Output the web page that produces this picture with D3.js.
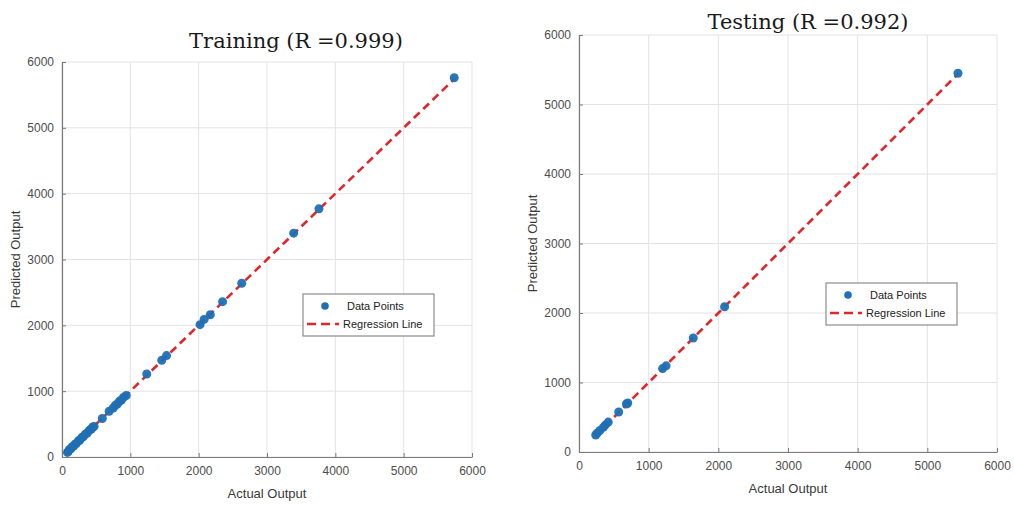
<!DOCTYPE html>
<html>
<head>
<meta charset="utf-8">
<script src="https://cdn.jsdelivr.net/npm/d3@7"></script>
<style>
  body { margin: 0; background: #fff; }
  svg text { font-family: "Liberation Sans", Arial, sans-serif; }
  .tick text { fill: #4d4d4d; font-size: 12px; }
</style>
</head>
<body>
<svg id="chart" width="1014" height="505"></svg>
<script>
/***** Data ***************************/
var trainActual = [80, 95, 110, 130, 150, 170, 190, 210, 240, 260, 290, 310, 340, 370, 400, 430, 450, 470,
                   590, 690, 750, 780, 810, 840, 870, 900, 940,
                   1240, 1460, 1530, 2020, 2080, 2170, 2350, 2630, 3390, 3760, 5740];
var trainPredicted = [70, 90, 115, 125, 155, 165, 195, 205, 245, 255, 295, 305, 345, 365, 405, 425, 455, 465,
                      585, 695, 745, 785, 805, 845, 865, 905, 935,
                      1260, 1470, 1540, 2010, 2090, 2160, 2360, 2640, 3400, 3770, 5760];
var testActual = [240, 260, 300, 350, 380, 420, 570, 680, 700, 1200, 1250, 1640, 2090, 5440];
var testPredicted = [245, 270, 310, 355, 390, 430, 575, 690, 705, 1200, 1240, 1640, 2090, 5450];
var trainLine = [80, 5750];
var testLine = [240, 5450];
var axisTicks = [0, 1000, 2000, 3000, 4000, 5000, 6000];

var svg = d3.select("#chart");

/***** One regression panel ******/
function drawPanel(opt) {
    var x = d3.scaleLinear().domain([0, 6000]).range([opt.left, opt.right]);
    var y = d3.scaleLinear().domain([0, 6000]).range([opt.bottom, opt.top]);
    var g = svg.append("g");

    // grid
    g.selectAll(".gx").data(axisTicks).enter().append("line")
      .attr("x1", function(d) { return x(d); }).attr("x2", function(d) { return x(d); })
      .attr("y1", opt.top).attr("y2", opt.bottom)
      .attr("stroke", "#e3e3e3").attr("stroke-width", 1);
    g.selectAll(".gy").data(axisTicks).enter().append("line")
      .attr("y1", function(d) { return y(d); }).attr("y2", function(d) { return y(d); })
      .attr("x1", opt.left).attr("x2", opt.right)
      .attr("stroke", "#e3e3e3").attr("stroke-width", 1);

    // axes
    var xa = g.append("g")
      .attr("transform", "translate(0," + opt.bottom + ")")
      .call(d3.axisBottom(x).tickValues(axisTicks).tickFormat(d3.format("d"))
              .tickSizeInner(-4).tickSizeOuter(0).tickPadding(9));
    var ya = g.append("g")
      .attr("transform", "translate(" + opt.left + ",0)")
      .call(d3.axisLeft(y).tickValues(axisTicks).tickFormat(d3.format("d"))
              .tickSizeInner(-4).tickSizeOuter(0).tickPadding(8));
    [xa, ya].forEach(function(a) {
        a.select(".domain").attr("stroke", "#7a7a7a").attr("stroke-width", 1.2);
        a.selectAll(".tick line").attr("stroke", "#7a7a7a");
    });

    // regression line
    g.append("line")
      .attr("x1", x(opt.line[0])).attr("y1", y(opt.line[0]))
      .attr("x2", x(opt.line[1])).attr("y2", y(opt.line[1]))
      .attr("stroke", "#e0262b").attr("stroke-width", 2.6)
      .attr("stroke-dasharray", "8,5");

    // points
    g.selectAll(".pt").data(opt.xs).enter().append("circle")
      .attr("cx", function(d) { return x(d); })
      .attr("cy", function(d, i) { return y(opt.ys[i]); })
      .attr("r", 4.5)
      .attr("fill", "#1f6fb5").attr("opacity", 0.95);

    // title
    g.append("text")
      .attr("x", opt.titleX).attr("y", opt.titleY)
      .attr("text-anchor", "middle")
      .style("font-family", "'DejaVu Serif', 'Liberation Serif', serif")
      .style("font-size", "21px")
      .attr("fill", "#1a1a1a")
      .text(opt.title);

    // axis labels
    g.append("text")
      .attr("x", (opt.left + opt.right) / 2).attr("y", opt.bottom + 41)
      .attr("text-anchor", "middle")
      .style("font-size", "13px").attr("fill", "#3a3a3a")
      .text("Actual Output");
    g.append("text")
      .attr("transform", "translate(" + opt.yLabelX + "," + (opt.top + opt.bottom) / 2 + ") rotate(-90)")
      .attr("text-anchor", "middle")
      .style("font-size", "13px").attr("fill", "#3a3a3a")
      .text("Predicted Output");

    // legend
    var lg = g.append("g").attr("transform", "translate(" + opt.legX + "," + opt.legY + ")");
    lg.append("rect").attr("width", 131).attr("height", 42)
      .attr("fill", "#fff").attr("stroke", "#8c8c8c").attr("stroke-width", 1.2);
    lg.append("circle").attr("cx", 22).attr("cy", 12).attr("r", 3.8).attr("fill", "#1f6fb5");
    lg.append("line").attr("x1", 4).attr("x2", 36).attr("y1", 30).attr("y2", 30)
      .attr("stroke", "#e0262b").attr("stroke-width", 2.6).attr("stroke-dasharray", "9,5");
    lg.append("text").attr("x", 44).attr("y", 16).style("font-size", "11px").attr("fill", "#222").text("Data Points");
    lg.append("text").attr("x", 40).attr("y", 34).style("font-size", "11px").attr("fill", "#222").text("Regression Line");
}

drawPanel({
    left: 62, right: 472, top: 62, bottom: 457,
    xs: trainActual, ys: trainPredicted, line: trainLine,
    title: "Training (R =0.999)", titleX: 296, titleY: 48,
    yLabelX: 20, legX: 303, legY: 294
});

drawPanel({
    left: 579, right: 997, top: 35, bottom: 452,
    xs: testActual, ys: testPredicted, line: testLine,
    title: "Testing (R =0.992)", titleX: 808, titleY: 29,
    yLabelX: 537, legX: 826, legY: 283
});
</script>
</body>
</html>
